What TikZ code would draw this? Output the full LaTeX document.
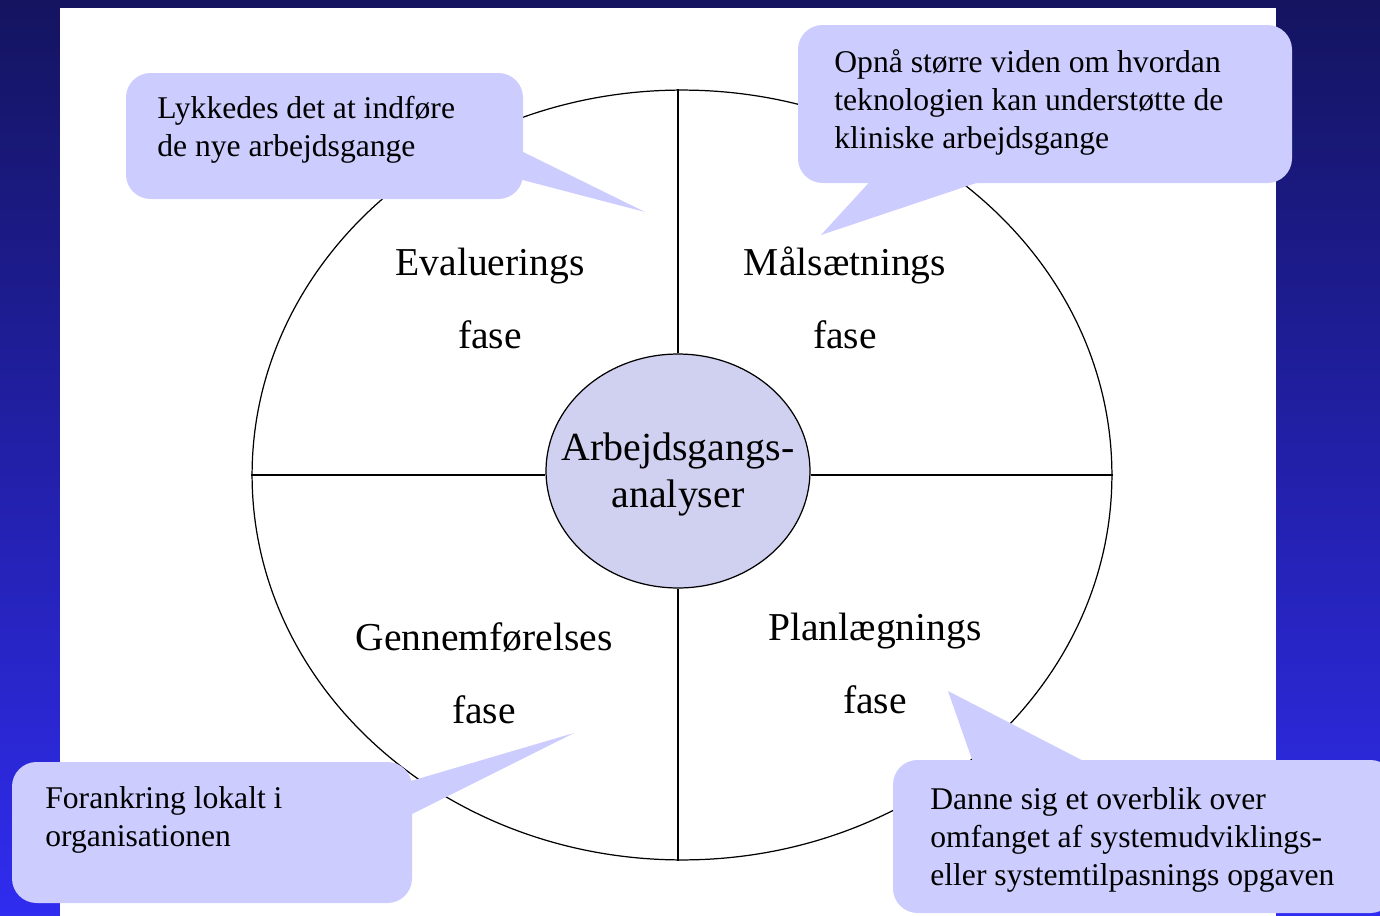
\documentclass[tikz,border=0pt]{standalone}
\usepackage{fontspec}
\setmainfont{Liberation Serif}
\usetikzlibrary{shapes.geometric}
\definecolor{navy}{RGB}{20,20,96}
\definecolor{brightblue}{RGB}{48,44,240}
\definecolor{bubble}{RGB}{204,204,255}
\definecolor{hubfill}{RGB}{208,208,240}
\tikzset{
  bubbletext/.style={anchor=base west, align=left, inner sep=0pt,
    font=\fontsize{18}{21.5}\selectfont},
  phase/.style={anchor=base, align=center, inner sep=0pt,
    font=\fontsize{22.5}{41.4}\selectfont},
  spoke/.style={line width=0.7pt},
}
\begin{document}
\begin{tikzpicture}[x=0.02cm,y=-0.02cm]
\useasboundingbox (0,0) rectangle (1380,916);
\shade[top color=navy,bottom color=brightblue] (0,0) rectangle (1380,916);
\fill[white] (60,8) rectangle (1276,916);
% wheel and hub
\node[draw, spoke, ellipse, inner sep=0pt, minimum width=17.2cm, minimum height=15.4cm] (wheel) at (682,475) {};
\node[draw, spoke, ellipse, fill=hubfill, inner sep=0pt, minimum width=5.28cm, minimum height=4.68cm] (hub) at (678,471) {};
\node[anchor=base, align=center, inner sep=0pt, font=\fontsize{22.7}{26.6}\selectfont] (analyse) at (678,507) {Arbejdsgangs-\\analyser};
\draw[spoke] (hub.north) -- (hub.north |- wheel.north);
\draw[spoke] (hub.south) -- (hub.south |- wheel.south);
\draw[spoke] (wheel.west) -- (wheel.west -| hub.west);
\draw[spoke] (wheel.east) -- (wheel.east -| hub.east);
% phases
\node[phase] (evaluering) at (490,348) {Evaluerings\\fase};
\node[phase] (maal) at (845,348) {Målsætnings\\fase};
\node[phase] (gennemfoer) at (484,723) {Gennemførelses\\fase};
\node[phase] (planlaeg) at (875,713) {Planlægnings\\fase};
% callouts
\fill[bubble, rounded corners=14pt] (126,73) rectangle (523,199);
\fill[bubble] (515,148) -- (645,212) -- (515,178) -- cycle;
\node[bubbletext] (lykkedes) at (157,156) {Lykkedes det at indføre\\de nye arbejdsgange};
\fill[bubble, rounded corners=14pt] (798,25) rectangle (1292,183);
\fill[bubble] (876,175) -- (821,235) -- (1000,175) -- cycle;
\node[bubbletext] (opnaa) at (834,148) {Opnå større viden om hvordan\\teknologien kan understøtte de\\kliniske arbejdsgange};
\fill[bubble, rounded corners=14pt] (12,762) rectangle (412,903);
\fill[bubble] (404,783) -- (574,733) -- (404,818) -- cycle;
\node[bubbletext] (forankring) at (45,846) {Forankring lokalt i\\organisationen};
\fill[bubble, rounded corners=14pt] (893,760) rectangle (1395,913);
\fill[bubble] (975,768) -- (948,691) -- (1097,768) -- cycle;
\node[bubbletext] (danne) at (930,885) {Danne sig et overblik over\\omfanget af systemudviklings-\\eller systemtilpasnings opgaven};
\end{tikzpicture}
\end{document}
